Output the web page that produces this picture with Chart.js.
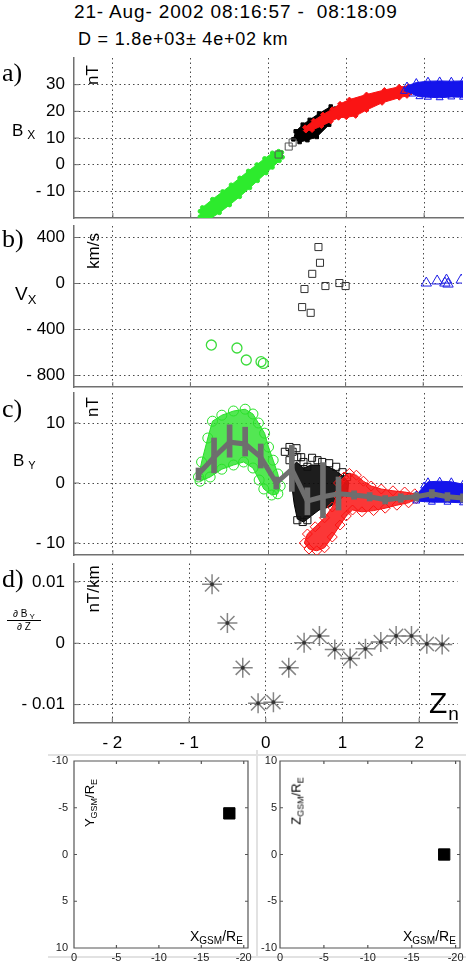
<!DOCTYPE html>
<html>
<head>
<meta charset="utf-8">
<script src="https://cdn.jsdelivr.net/npm/chart.js@4.4.1/dist/chart.umd.min.js"></script>
<style>
  body { margin: 0; background: #fff; }
  #wrap { position: relative; width: 469px; height: 970px; overflow: hidden; font-family: 'Liberation Sans', Arial, sans-serif; color: #000; }
  canvas { position: absolute; }
  .t { position: absolute; white-space: nowrap; line-height: 1; }
  .pl { font-family: 'Liberation Serif', serif; font-size: 26px; }
  .rot { transform: translate(-50%, -50%) rotate(-90deg); }
  .sb { position: relative; }
  .frame { position: absolute; left: 48px; top: 754px; width: 418px; height: 200px; border-top: 2px solid #e2e2e2; border-bottom: 2px solid #e2e2e2; }
  .div { position: absolute; left: 256px; top: 750px; width: 2px; height: 207px; background: #e2e2e2; }
</style>
</head>
<body>
<div id="wrap">
  <div class="frame"></div>
  <div class="div"></div>

  <div class="t" style="left:74px;top:2px;font-size:19px;letter-spacing:0.85px;">21- Aug- 2002 08:16:57 -&nbsp; 08:18:09</div>
  <div class="t" style="left:78px;top:30px;font-size:18px;letter-spacing:0.8px;">D = 1.8e+03± 4e+02 km</div>

  <canvas id="ca" width="469" height="178" style="left:0;top:48px"></canvas>
  <canvas id="cb" width="469" height="179" style="left:0;top:216px"></canvas>
  <canvas id="cc" width="469" height="180" style="left:0;top:383px"></canvas>
  <canvas id="cd" width="469" height="203" style="left:0;top:552px"></canvas>
  <canvas id="cyx" width="257" height="217" style="left:0;top:751px"></canvas>
  <canvas id="czx" width="212" height="217" style="left:257px;top:751px"></canvas>

  <div class="t pl" style="left:2px;top:60px;">a)</div>
  <div class="t pl" style="left:2px;top:226px;">b)</div>
  <div class="t pl" style="left:2px;top:396px;">c)</div>
  <div class="t pl" style="left:2px;top:566px;">d)</div>

  <div class="t" style="left:12px;top:122px;font-size:17px;">B<span class="sb" style="font-size:12px;top:3px;margin-left:4px;">X</span></div>
  <div class="t" style="left:15px;top:284px;font-size:19px;">V<span class="sb" style="font-size:13px;top:4px;">X</span></div>
  <div class="t" style="left:13px;top:452px;font-size:17px;">B<span class="sb" style="font-size:11px;top:3px;margin-left:4px;">Y</span></div>
  <div class="t" style="left:7px;top:609px;width:34px;text-align:center;font-size:10px;">
    <div>∂ B<span class="sb" style="font-size:8px;top:2px;"> Y</span></div>
    <div style="border-top:1px solid #000;margin-top:1px;padding-top:1px;">∂ Z</div>
  </div>

  <div class="t rot" style="left:92px;top:75px;font-size:17px;">nT</div>
  <div class="t rot" style="left:93px;top:251px;font-size:17px;">km/s</div>
  <div class="t rot" style="left:92px;top:407px;font-size:17px;">nT</div>
  <div class="t rot" style="left:93px;top:589px;font-size:17px;">nT/km</div>

  <div class="t" style="left:429px;top:688px;font-size:30px;">Z<span class="sb" style="font-size:19px;top:7px;margin-left:1px;">n</span></div>

  <div class="t rot" style="left:89px;top:803px;font-size:13px;">Y<span class="sb" style="font-size:9px;top:3px;">GSM</span>/R<span class="sb" style="font-size:9px;top:3px;">E</span></div>
  <div class="t" style="left:190px;top:929px;font-size:14px;">X<span class="sb" style="font-size:10px;top:3px;">GSM</span>/R<span class="sb" style="font-size:10px;top:3px;">E</span></div>
  <div class="t rot" style="left:296px;top:801px;font-size:13px;">Z<span class="sb" style="font-size:9px;top:3px;">GSM</span>/R<span class="sb" style="font-size:9px;top:3px;">E</span></div>
  <div class="t" style="left:403px;top:929px;font-size:14px;">X<span class="sb" style="font-size:10px;top:3px;">GSM</span>/R<span class="sb" style="font-size:10px;top:3px;">E</span></div>
</div>

<script>
Chart.defaults.font.family = "'Liberation Sans', Arial, sans-serif";
Chart.defaults.color = '#000';

// tick values
const xTicks = [-2, -1, 0, 1, 2];
const bxTicks = [-10, 0, 10, 20, 30];
const vxTicks = [-800, -400, 0, 400];
const byTicks = [-10, 0, 10];
const dbTicks = [-0.01, 0, 0.01];
const gsmXTicks = [0, -5, -10, -15, -20];
const gsmYTicks = [-10, -5, 0, 5, 10];

// a) Bx (nT) vs Zn -- outlines of the dense marker clouds
const bxGreen = [[-0.88,-17.5],[-0.85,-16.1],[-0.72,-13.0],[-0.59,-10.1],[-0.48,-7.6],[-0.37,-5.0],[-0.26,-2.4],[-0.15,0.0],[-0.05,2.3],[0.05,4.4],[0.13,5.0],[0.17,4.6],
                 [0.18,2.8],[0.14,1.5],[0.05,-1.0],[-0.03,-3.1],[-0.14,-6.0],[-0.24,-8.7],[-0.37,-12.0],[-0.5,-15.1],[-0.63,-18.0],[-0.75,-20.3],[-0.83,-20.8],[-0.88,-19.5]];
const bxBlack = [[0.32,9.5],[0.35,12.5],[0.44,15.0],[0.53,16.8],[0.65,19.2],[0.8,21.8],[0.86,21.0],[0.85,18.0],[0.78,15.0],[0.62,10.4],[0.5,9.2],[0.4,8.5]];
const bxSquares = [[0.13,3.8],[0.26,6.8],[0.31,8.3]];
const bxRed = [[0.47,14.0],[0.58,16.5],[0.70,18.8],[0.82,20.8],[0.92,22.8],[1.04,24.4],[1.26,26.3],[1.49,28.0],[1.68,29.2],[1.80,29.4],
               [1.83,27.0],[1.78,25.8],[1.68,25.1],[1.46,23.2],[1.26,20.5],[1.12,18.3],[1.0,17.8],[0.9,17.6],[0.8,16.2],[0.68,14.5],[0.56,13.0],[0.48,12.8]];
const bxBlue = [[1.74,27.5],[1.78,29.5],[1.9,30.8],[2.05,31.3],[2.2,31.4],[2.35,31.3],[2.5,31.4],
                [2.5,25.3],[2.35,25.4],[2.2,25.1],[2.05,25.3],[1.94,25.5],[1.85,26.5]];

// b) Vx (km/s)
const vxGreen = [[-0.73,-535],[-0.4,-561],[-0.28,-665],[-0.09,-680],[-0.06,-695]];
const vxBlack = [[0.65,317],[0.67,180],[0.57,84],[0.47,-48],[0.74,-22],[0.44,-205],[0.55,-255],[0.92,4],[1.0,-22]];
const vxBlue = [[2.04,4],[2.18,22],[2.3,30],[2.28,4],[2.32,-5],[2.49,30]];

// c) By (nT)
const byGreen = [[-0.9,1.0],[-0.86,3.5],[-0.78,7.5],[-0.72,10.3],[-0.6,11.3],[-0.45,12.0],[-0.3,12.3],[-0.2,11.5],[-0.13,10.0],[-0.05,8.3],[0.0,6.0],[0.06,3.8],[0.12,1.5],[0.15,-0.5],[0.12,-1.8],
                 [0.04,-2.0],[-0.06,-1.0],[-0.12,0.5],[-0.2,2.5],[-0.32,3.5],[-0.45,3.0],[-0.6,2.3],[-0.75,1.0],[-0.88,0.3]];
const byBlack = [[0.29,2.5],[0.36,3.5],[0.45,2.5],[0.55,3.0],[0.65,3.0],[0.75,2.8],[0.85,2.2],[0.95,1.2],[1.03,0.2],[1.02,-1.5],[0.9,-3.0],[0.78,-4.0],[0.65,-4.5],[0.55,-5.5],[0.45,-6.5],[0.37,-6.0],[0.33,-3.5],[0.3,-0.5]];
const bySquares = [[0.21,5.2],[0.27,6.0],[0.27,3.8],[0.31,5.2],[0.36,5.8],[0.37,4.3],[0.42,4.3],[0.45,3.5],[0.5,2.7],[0.56,4.2],[0.63,3.8],[0.69,3.5],[0.78,3.3],[0.87,2.7],[0.95,1.8],[1.01,1.0],[0.37,-6.2],[0.44,-6.5],[0.5,-6.2]];
const byRed = [[0.9,0.0],[0.97,1.0],[1.04,1.6],[1.13,1.3],[1.22,0.3],[1.32,-0.5],[1.45,-1.0],[1.6,-1.3],[1.75,-1.5],[1.88,-1.8],[1.9,-2.6],
               [1.8,-3.3],[1.65,-3.7],[1.5,-4.2],[1.35,-4.6],[1.2,-4.8],[1.08,-4.5],[1.0,-5.5],[0.92,-7.0],[0.82,-9.0],[0.72,-10.8],[0.62,-11.3],[0.52,-11.0],[0.46,-10.0],[0.5,-8.5],[0.6,-7.3],[0.72,-5.8],[0.82,-4.0],[0.88,-2.0]];
const byBlue = [[1.9,-2.0],[2.0,-0.5],[2.05,0.2],[2.2,0.3],[2.35,0.2],[2.5,-0.2],[2.5,-3.3],[2.3,-3.2],[2.1,-3.2],[1.9,-3.0]];
const byMeanX = [-0.9,-0.7,-0.5,-0.3,-0.1,0.1,0.3,0.5,0.7,0.9,1.1,1.3,1.5,1.7,1.9,2.1,2.3,2.5];
const byMeanY = [1.5,4.3,6.8,6.5,4.3,0.0,2.3,-3.0,-2.3,-1.8,-2.0,-2.3,-2.8,-2.5,-2.3,-1.8,-2.3,-2.5];
const byErrLo = [0.5,1.7,4.3,4.5,2.5,-1.0,-1.4,-5.3,-5.8,-4.5,-2.7,-3.0,-3.5,-3.2,-3.0,-2.5,-3.0,-3.2];
const byErrHi = [2.5,7.5,9.7,9.3,6.5,1.0,6.3,-0.8,3.4,1.0,-1.3,-1.6,-2.1,-1.8,-1.6,-1.1,-1.6,-1.8];

// d) dBy/dZ (nT/km)
const dzX = [-0.7,-0.5,-0.3,-0.1,0.1,0.3,0.5,0.7,0.9,1.1,1.3,1.5,1.7,1.9,2.1,2.3];
const dzY = [0.0096,0.0033,-0.0040,-0.0098,-0.0096,-0.0040,0.0001,0.0012,-0.0010,-0.0025,-0.0009,0.0002,0.0012,0.0012,-0.0001,-0.0002];

// spacecraft position (R_E)
const posXY = [[-18.3,-4.4]];
const posXZ = [[-18.7,0]];

const pts = arr => arr.map(([x, y]) => ({ x, y }));
const minusFmt = v => (v < 0 ? '- ' + String(-v) : String(v));
const noPad = s => { s.paddingTop = 0; s.paddingBottom = 0; s.paddingLeft = 0; s.paddingRight = 0; };

const innerTicks = {
  id: 'innerTicks',
  beforeDatasetsDraw(chart, args, o) {
    const { ctx, chartArea: a, scales } = chart;
    ctx.save();
    ctx.strokeStyle = o.color;
    ctx.lineWidth = o.width;
    ctx.beginPath();
    scales.x.ticks.forEach(t => {
      const p = scales.x.getPixelForValue(t.value);
      ctx.moveTo(p, a.bottom); ctx.lineTo(p, a.bottom - o.len);
      if (o.box) { ctx.moveTo(p, a.top); ctx.lineTo(p, a.top + o.len); }
    });
    scales.y.ticks.forEach(t => {
      const p = scales.y.getPixelForValue(t.value);
      ctx.moveTo(a.left, p); ctx.lineTo(a.left + o.len, p);
      if (o.box) { ctx.moveTo(a.right, p); ctx.lineTo(a.right - o.len, p); }
    });
    if (o.box) ctx.rect(a.left, a.top, a.width, a.height);
    ctx.stroke();
    ctx.restore();
  }
};

function cloud(data, color, fill, style, radius, open) {
  return {
    data: pts(data), showLine: true, fill: 'shape', tension: 0,
    borderColor: color, borderWidth: 1, backgroundColor: fill,
    pointStyle: style, pointRadius: radius, pointBorderColor: color, pointBorderWidth: 1,
    pointBackgroundColor: open ? 'rgba(0,0,0,0)' : fill
  };
}
function markers(data, color, style, radius, width) {
  return {
    data: pts(data), showLine: false, pointStyle: style, pointRadius: radius,
    pointBorderColor: color, pointBorderWidth: width || 1, pointBackgroundColor: 'rgba(0,0,0,0)'
  };
}

function makeMain(id, datasets, yMin, yMax, yVals, showX) {
  return new Chart(document.getElementById(id), {
    type: 'scatter',
    data: { datasets },
    options: {
      animation: false, responsive: false, devicePixelRatio: 1, events: [],
      layout: { padding: { top: 10, right: 5, left: 0, bottom: 0 } },
      plugins: { legend: { display: false }, tooltip: { enabled: false },
                 innerTicks: { len: 5, box: false, color: '#707070', width: 1 } },
      scales: {
        x: {
          type: 'linear', min: -2.5, max: 2.5, offset: false,
          afterBuildTicks: s => { s.ticks = xTicks.map(v => ({ value: v })); },
          afterFit: s => { s.height = showX ? 32 : 8; noPad(s); },
          ticks: { display: showX, padding: 10, font: { size: 17 }, color: '#000', callback: v => minusFmt(v) },
          grid: { color: '#4a4a4a', lineWidth: 1, drawTicks: false, offset: false },
          border: { color: '#707070', width: 1.5, dash: [1.5, 3] }
        },
        y: {
          type: 'linear', min: yMin, max: yMax,
          afterBuildTicks: s => { s.ticks = yVals.map(v => ({ value: v })); },
          afterFit: s => { s.width = 74; noPad(s); },
          ticks: { padding: 9, font: { size: 17 }, color: '#000', callback: v => minusFmt(v) },
          grid: { color: '#4a4a4a', lineWidth: 1, drawTicks: false },
          border: { color: '#707070', width: 1.5, dash: [1.5, 3] }
        }
      }
    },
    plugins: [innerTicks]
  });
}

function makePos(id, data, yReverse, yWidth, yPad) {
  return new Chart(document.getElementById(id), {
    type: 'scatter',
    data: { datasets: [{ data: pts(data), pointStyle: 'rect', pointRadius: 8, pointBackgroundColor: '#000', pointBorderColor: '#000' }] },
    options: {
      animation: false, responsive: false, devicePixelRatio: 1, events: [],
      layout: { padding: { top: 10, right: 7, left: 0, bottom: 0 } },
      plugins: { legend: { display: false }, tooltip: { enabled: false },
                 innerTicks: { len: 3, box: true, color: '#555', width: 1.2 } },
      scales: {
        x: {
          type: 'linear', min: -20.5, max: 0, reverse: true,
          afterBuildTicks: s => { s.ticks = gsmXTicks.map(v => ({ value: v })); },
          afterFit: s => { s.height = 20; noPad(s); },
          ticks: { padding: 3, font: { size: 11 }, color: '#222' },
          grid: { display: false, drawTicks: false }, border: { display: false }
        },
        y: {
          type: 'linear', min: -10, max: 10, reverse: yReverse,
          afterBuildTicks: s => { s.ticks = gsmYTicks.map(v => ({ value: v })); },
          afterFit: s => { s.width = yWidth; noPad(s); },
          ticks: { padding: yPad, font: { size: 11 }, color: '#222' },
          grid: { display: false, drawTicks: false }, border: { display: false }
        }
      }
    },
    plugins: [innerTicks]
  });
}

// a) Bx
makeMain('ca', [
  markers(bxSquares, '#555', 'rect', 5),
  cloud(bxBlue, 'rgb(20,20,235)', 'rgb(20,20,235)', 'triangle', 4, true),
  cloud(bxRed, 'rgb(250,20,20)', 'rgb(250,20,20)', 'rectRot', 2.5, false),
  cloud(bxBlack, '#000', '#000', 'rect', 2.5, false),
  cloud(bxGreen, 'rgb(45,235,45)', 'rgb(45,235,45)', 'circle', 2, false)
], -20, 40, bxTicks, false);

// b) Vx
makeMain('cb', [
  markers(vxBlue, 'rgb(30,30,230)', 'triangle', 6),
  markers(vxBlack, '#333', 'rect', 5),
  markers(vxGreen, 'rgb(60,220,60)', 'circle', 5, 1.3)
], -900, 500, vxTicks, false);

// c) By with mean profile
makeMain('cc', [
  { type: 'line', data: byMeanX.map((x, i) => ({ x, y: byMeanY[i] })), borderColor: '#6e6e6e', borderWidth: 5,
    pointRadius: 0, tension: 0, fill: false },
  { type: 'bar', data: byMeanX.map((x, i) => ({ x, y: [byErrLo[i], byErrHi[i]] })), backgroundColor: '#6e6e6e',
    barThickness: 5, borderWidth: 0 },
  cloud(byBlue, 'rgb(20,20,235)', 'rgb(20,20,235)', 'triangle', 4, true),
  cloud(byRed, 'rgb(250,20,20)', 'rgba(250,20,20,0.85)', 'rectRot', 5, true),
  markers(bySquares, '#111', 'rect', 5),
  cloud(byBlack, '#000', 'rgba(10,10,10,0.92)', 'rect', 0, false),
  cloud(byGreen, 'rgb(40,225,40)', 'rgba(40,225,40,0.8)', 'circle', 5, true)
], -12, 15, byTicks, false);

// d) dBy/dZ
makeMain('cd', [
  { data: dzX.map((x, i) => ({ x, y: dzY[i] })), pointStyle: 'circle', pointRadius: 1.5,
    pointBackgroundColor: '#333', pointBorderColor: '#333' },
  { data: dzX.map((x, i) => ({ x, y: dzY[i] })), pointStyle: 'star', pointRadius: 10,
    pointBorderColor: '#858585', pointBorderWidth: 1.5 }
], -0.013, 0.013, dbTicks, true);

// spacecraft position panels
makePos('cyx', posXY, true, 74, 6);
makePos('czx', posXZ, false, 23, 3);
</script>
</body>
</html>
